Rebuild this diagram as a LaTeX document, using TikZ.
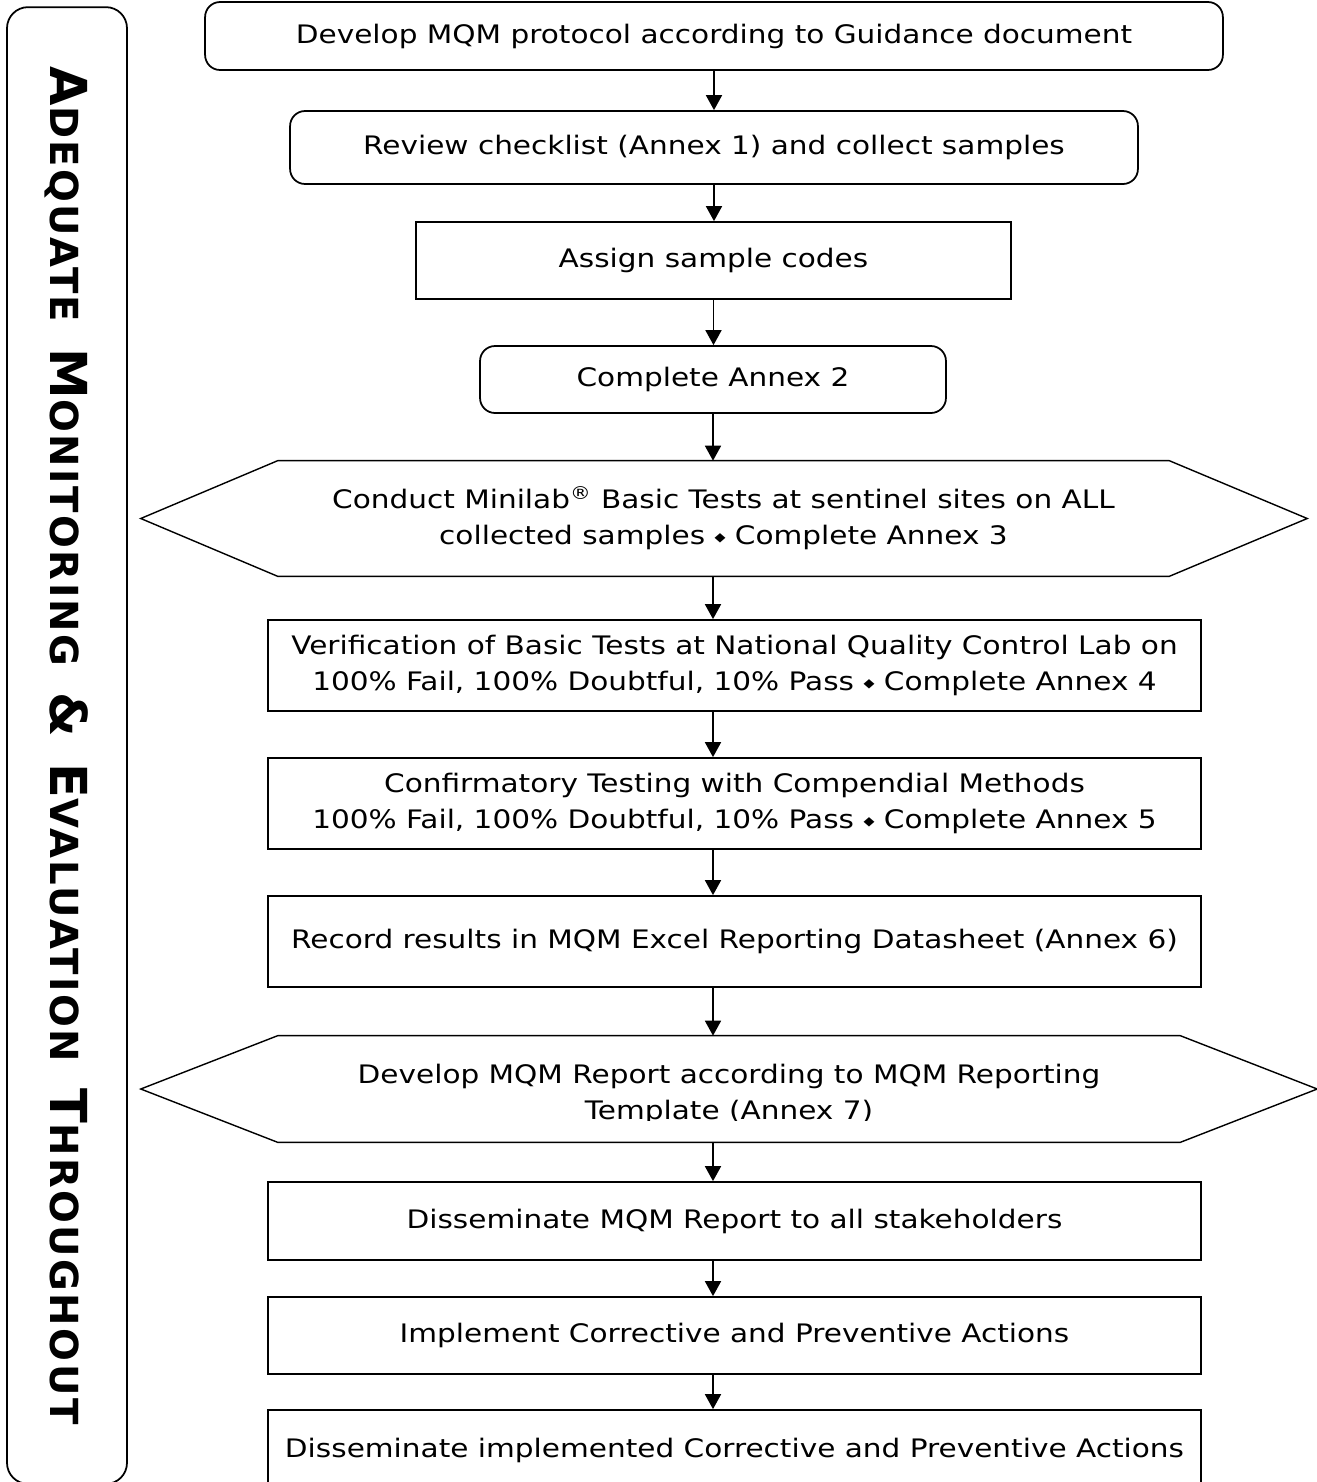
\documentclass[tikz,border=0pt]{standalone}
\usepackage{fontspec}
\setmainfont{DejaVu Sans}[FakeStretch=1.16]
\newfontfamily\sidefont{DejaVu Sans}[LetterSpace=6.5]
\usetikzlibrary{arrows.meta}
\newcommand{\dmd}{\raisebox{0.25ex}{\fontsize{7}{7}\selectfont ◆}}
\newcommand{\smc}[2]{{\fontsize{29}{29}\selectfont #1}{\fontsize{22}{22}\selectfont #2}}
\newcommand{\wsp}{\hspace{1.5em}}

\begin{document}
\begin{tikzpicture}[x=0.02cm,y=-0.02cm,
  every node/.style={inner sep=0pt,align=center,font=\fontsize{14.5}{20.5}\selectfont},
  stepbox/.style={draw,line width=1pt,minimum width=#1},
  roundbox/.style={stepbox=#1,rounded corners=0.3cm},
  arr/.style={line width=1pt,-{Triangle[length=0.3cm,width=0.32cm]}}]
\useasboundingbox (0,0) rectangle (1317,1482);
\clip (0,0) rectangle (1317,1482);
\node [draw,line width=1pt,rounded corners=0.42cm,rotate=-90,minimum width=29.54cm,minimum height=2.4cm,
  font=\sidefont\bfseries] (side) at (67,745.5)
  {\smc{A}{DEQUATE}\wsp\smc{M}{ONITORING}\wsp\smc{\&}{}\wsp\smc{E}{VALUATION}\wsp\smc{T}{HROUGHOUT}};
\node [roundbox=20.36cm,minimum height=1.36cm] (b1) at (714,36)
  {Develop MQM protocol according to Guidance document};
\node [roundbox=16.96cm,minimum height=1.46cm] (b2) at (714,147.5)
  {Review checklist (Annex 1) and collect samples};
\node [stepbox=11.9cm,minimum height=1.54cm] (b3) at (713.5,260.5)
  {Assign sample codes};
\node [roundbox=9.32cm,minimum height=1.34cm] (b4) at (713,379.5)
  {Complete Annex 2};
\node [minimum width=17.82cm,minimum height=2.3cm] (h1) at (723.5,518.5)
  {Conduct Minilab\textsuperscript{®} Basic Tests at sentinel sites on ALL\\
   collected samples \dmd{} Complete Annex 3};
\draw [line width=0.8pt] (h1.north west) -- (h1.north east) -- ([xshift=2.76cm]h1.east)
  -- (h1.south east) -- (h1.south west) -- ([xshift=-2.74cm]h1.west) -- cycle;
\node [stepbox=18.66cm,minimum height=1.82cm] (b6) at (734.5,665.5)
  {Verification of Basic Tests at National Quality Control Lab on\\
   100\% Fail, 100\% Doubtful, 10\% Pass \dmd{} Complete Annex 4};
\node [stepbox=18.66cm,minimum height=1.82cm] (b7) at (734.5,803.5)
  {Confirmatory Testing with Compendial Methods\\
   100\% Fail, 100\% Doubtful, 10\% Pass \dmd{} Complete Annex 5};
\node [stepbox=18.66cm,minimum height=1.82cm] (b8) at (734.5,941.5)
  {Record results in MQM Excel Reporting Datasheet (Annex 6)};
\node [minimum width=18.04cm,minimum height=2.12cm] (h2) at (729,1089) {};
\draw [line width=0.8pt] (h2.north west) -- (h2.north east) -- ([xshift=2.74cm]h2.east)
  -- (h2.south east) -- (h2.south west) -- ([xshift=-2.74cm]h2.west) -- cycle;
\begin{scope}
\clip (200,1040) rectangle (1250,1120);
\node (h2text) at (729,1094.5)
  {Develop MQM Report according to MQM Reporting\\Template (Annex 7)};
\end{scope}
\node [stepbox=18.66cm,minimum height=1.56cm] (b10) at (734.5,1221)
  {Disseminate MQM Report to all stakeholders};
\node [stepbox=18.66cm,minimum height=1.54cm] (b11) at (734.5,1335.5)
  {Implement Corrective and Preventive Actions};
\node [stepbox=18.66cm,minimum height=1.6cm] (b12) at (734.5,1450)
  {Disseminate implemented Corrective and Preventive Actions};
\draw [arr] (b1.south) -- (b1.south |- b2.north);
\draw [arr] (b2.south) -- (b2.south |- b3.north);
\draw [arr] (b3.south) -- (b3.south |- b4.north);
\draw [arr] (b4.south) -- (b4.south |- h1.north);
\draw [arr] (b4.south |- h1.south) -- (b4.south |- b6.north);
\draw [arr] (b4.south |- b6.south) -- (b4.south |- b7.north);
\draw [arr] (b4.south |- b7.south) -- (b4.south |- b8.north);
\draw [arr] (b4.south |- b8.south) -- (b4.south |- h2.north);
\draw [arr] (b4.south |- h2.south) -- (b4.south |- b10.north);
\draw [arr] (b4.south |- b10.south) -- (b4.south |- b11.north);
\draw [arr] (b4.south |- b11.south) -- (b4.south |- b12.north);
\end{tikzpicture}
\end{document}
